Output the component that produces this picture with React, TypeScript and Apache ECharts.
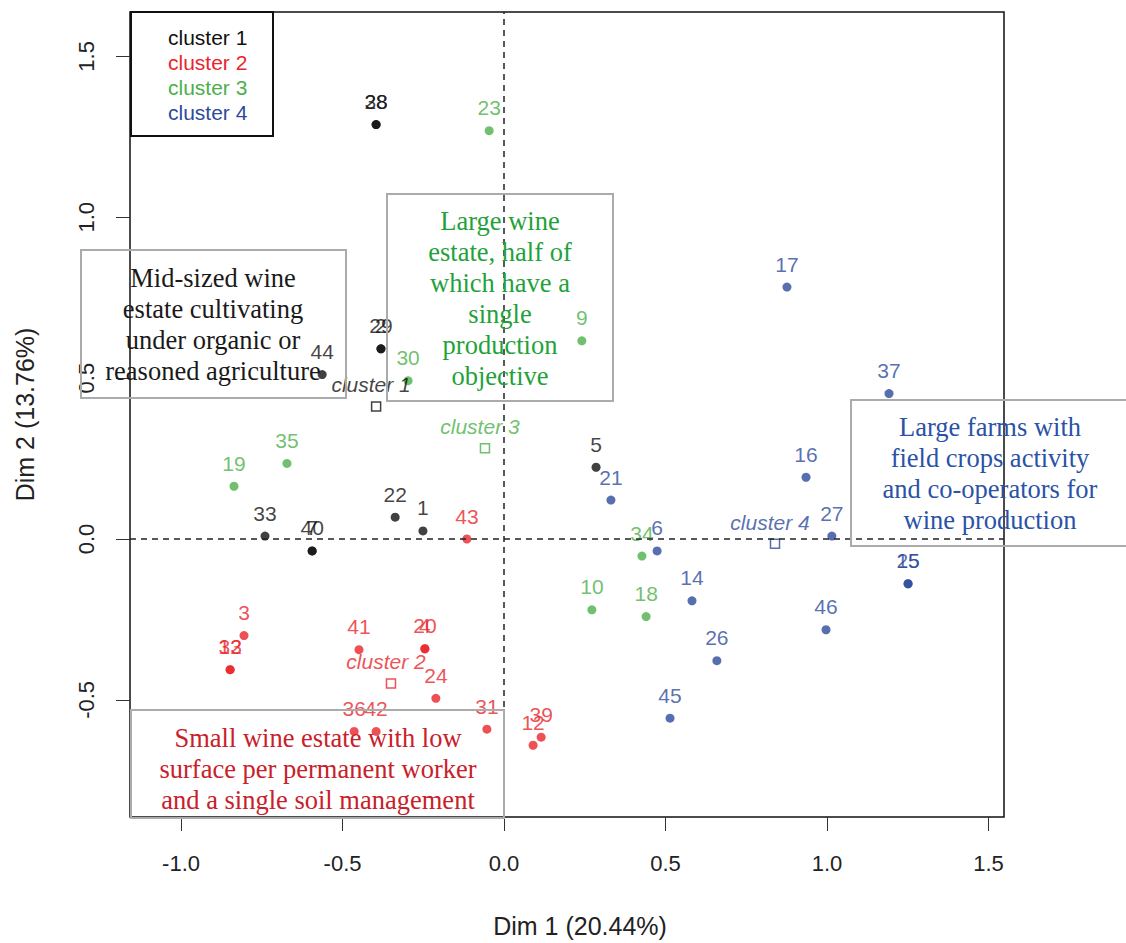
import React, { useEffect, useRef } from 'react';
import * as echarts from 'echarts';

// ---- data (Dim 1, Dim 2 coordinates) ----
const ids1 = ['28', '38', '2', '29', '44', '5', '22', '1', '33', '7', '40'];
const x1 = [-0.396, -0.396, -0.381, -0.381, -0.563, 0.285, -0.337, -0.251, -0.74, -0.594, -0.594];
const y1 = [1.288, 1.288, 0.591, 0.591, 0.511, 0.223, 0.068, 0.025, 0.009, -0.037, -0.037];

const ids2 = ['3', '13', '32', '41', '4', '20', '24', '36', '42', '31', '39', '12', '43'];
const x2 = [-0.805, -0.848, -0.848, -0.449, -0.245, -0.245, -0.211, -0.464, -0.396, -0.053, 0.115, 0.09, -0.115];
const y2 = [-0.3, -0.406, -0.406, -0.344, -0.341, -0.341, -0.495, -0.598, -0.598, -0.591, -0.616, -0.641, 0.0];

const ids3 = ['23', '9', '30', '19', '35', '34', '10', '18'];
const x3 = [-0.046, 0.241, -0.297, -0.836, -0.672, 0.427, 0.272, 0.44];
const y3 = [1.269, 0.616, 0.492, 0.164, 0.235, -0.053, -0.22, -0.241];

const ids4 = ['17', '37', '16', '21', '6', '27', '15', '25', '14', '46', '26', '45'];
const x4 = [0.876, 1.192, 0.935, 0.331, 0.474, 1.015, 1.251, 1.251, 0.582, 0.997, 0.659, 0.514];
const y4 = [0.783, 0.452, 0.192, 0.121, -0.037, 0.009, -0.139, -0.139, -0.192, -0.282, -0.378, -0.557];

const centroidNames = ['cluster 1', 'cluster 2', 'cluster 3', 'cluster 4'];
const centroidX = [-0.396, -0.35, -0.059, 0.839];
const centroidY = [0.412, -0.449, 0.282, -0.015];

const xTicks = [-1.0, -0.5, 0.0, 0.5, 1.0, 1.5];
const yTicks = [-0.5, 0.0, 0.5, 1.0, 1.5];

const legendLabels = ['cluster 1', 'cluster 2', 'cluster 3', 'cluster 4'];

const COLORS = ['#111111', '#e8262b', '#4cb04a', '#2e4b9b'];
const BOX_TEXT_COLORS = ['#1a1a1a', '#c9202a', '#1fa23a', '#2a52a6'];

const boxTexts = [
  'Mid-sized wine\nestate cultivating\nunder organic or\nreasoned agriculture',
  'Small wine estate with low\nsurface per permanent worker\nand a single soil management',
  'Large wine\nestate, half of\nwhich have a\nsingle\nproduction\nobjective',
  'Large farms with\nfield crops activity\nand co-operators for\nwine production',
];

const SANS = '"Liberation Sans", Arial, Helvetica, sans-serif';
const SERIF = '"Liberation Serif", "Times New Roman", serif';

function pts(ids: string[], xs: number[], ys: number[]) {
  return ids.map((id, i) => ({ name: id, value: [xs[i], ys[i]] }));
}

export default function App() {
  const ref = useRef<HTMLDivElement>(null);

  useEffect(() => {
    if (!ref.current) return;
    const chart = echarts.init(ref.current, undefined, { renderer: 'svg' });

    const groups = [
      pts(ids1, x1, y1),
      pts(ids2, x2, y2),
      pts(ids3, x3, y3),
      pts(ids4, x4, y4),
    ];

    const pointSeries: any[] = groups.map((data, k) => ({
      type: 'scatter',
      name: legendLabels[k],
      data,
      symbol: 'circle',
      symbolSize: 9,
      itemStyle: { color: COLORS[k] },
      label: {
        show: true,
        formatter: '{b}',
        position: 'top',
        distance: 8,
        color: COLORS[k],
        fontSize: 21,
        fontFamily: SANS,
      },
      z: 3,
    }));

    pointSeries[0].markLine = {
      silent: true,
      symbol: ['none', 'none'],
      label: { show: false },
      lineStyle: { type: [6, 5], color: '#222', width: 1.5 },
      data: [{ xAxis: 0 }, { yAxis: 0 }],
    };

    const centroidSeries = centroidNames.map((nm, k) => ({
      type: 'scatter',
      name: nm + ' centre',
      data: [{ name: nm, value: [centroidX[k], centroidY[k]] }],
      symbol: 'rect',
      symbolSize: 9,
      itemStyle: { color: 'rgba(255,255,255,0)', borderColor: COLORS[k], borderWidth: 1.5 },
      label: {
        show: true,
        formatter: '{b}',
        position: 'top',
        distance: 6,
        offset: [-5, 0],
        color: COLORS[k],
        fontSize: 21,
        fontStyle: 'italic',
        fontFamily: SANS,
      },
      z: 3,
    }));

    const boxes = [
      { x: 81, y: 250, w: 265, h: 148, cx: 213, cy: 324 },
      { x: 131, y: 710, w: 373, h: 108, cx: 318, cy: 769 },
      { x: 387, y: 194, w: 226, h: 207, cx: 500, cy: 298 },
      { x: 851, y: 400, w: 290, h: 146, cx: 990, cy: 473 },
    ];

    const graphics: any[] = [];
    boxes.forEach((b, i) => {
      graphics.push({
        type: 'rect',
        shape: { x: b.x, y: b.y, width: b.w, height: b.h },
        style: { fill: 'none', stroke: '#ababab', lineWidth: 2 },
        z: 10,
      });
      graphics.push({
        type: 'text',
        x: b.cx,
        y: b.cy,
        style: {
          text: boxTexts[i],
          fontFamily: SERIF,
          fontSize: 26.5,
          lineHeight: 31,
          fill: BOX_TEXT_COLORS[i],
          align: 'center',
          verticalAlign: 'middle',
        },
        z: 11,
      });
    });

    // legend box
    graphics.push({
      type: 'rect',
      shape: { x: 131, y: 12, width: 142, height: 124 },
      style: { fill: '#fff', stroke: '#111', lineWidth: 2 },
      z: 10,
    });
    legendLabels.forEach((t, k) => {
      graphics.push({
        type: 'text',
        x: 168,
        y: 37 + k * 25,
        style: {
          text: t,
          fontFamily: SANS,
          fontSize: 21,
          fill: COLORS[k],
          align: 'left',
          verticalAlign: 'middle',
        },
        z: 11,
      });
    });

    const tickText = { fontSize: 22, color: '#222', fontFamily: SANS };
    const titleText = { fontSize: 25, color: '#222', fontFamily: SANS };

    chart.setOption({
      animation: false,
      backgroundColor: '#ffffff',
      grid: {
        left: 130,
        right: 122,
        top: 12,
        bottom: 123,
        show: true,
        borderColor: '#111',
        borderWidth: 1.5,
        backgroundColor: 'rgba(0,0,0,0)',
      },
      xAxis: {
        type: 'value',
        min: -1.158,
        max: 1.548,
        axisLine: { show: false, onZero: false },
        splitLine: { show: false },
        axisTick: { show: true, customValues: xTicks, length: 14, lineStyle: { color: '#333' } },
        axisLabel: {
          customValues: xTicks,
          formatter: (v: number) => v.toFixed(1),
          margin: 35,
          ...tickText,
        },
        name: 'Dim 1 (20.44%)',
        nameLocation: 'middle',
        nameGap: 96,
        nameTextStyle: { ...titleText, padding: [0, 0, 0, 26] },
      },
      yAxis: {
        type: 'value',
        min: -0.864,
        max: 1.638,
        axisLine: { show: false, onZero: false },
        splitLine: { show: false },
        axisTick: { show: true, customValues: yTicks, length: 14, lineStyle: { color: '#333' } },
        axisLabel: {
          customValues: yTicks,
          formatter: (v: number) => v.toFixed(1),
          rotate: 90,
          margin: 33,
          ...tickText,
        },
        name: 'Dim 2 (13.76%)',
        nameLocation: 'middle',
        nameGap: 93,
        nameTextStyle: titleText,
      },
      graphic: graphics,
      series: [...pointSeries, ...centroidSeries],
    });

    return () => chart.dispose();
  }, []);

  return (
    <div
      ref={ref}
      style={{ position: 'fixed', left: 0, top: 0, width: 1126, height: 943, background: '#fff' }}
    />
  );
}
